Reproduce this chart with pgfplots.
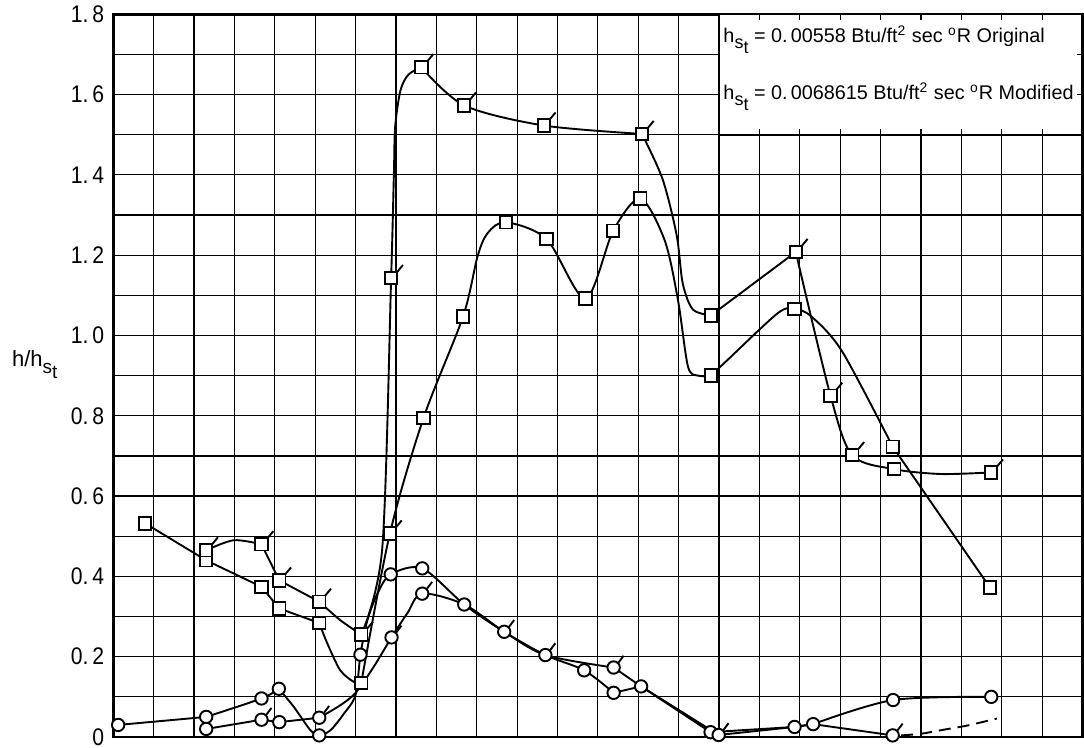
\documentclass[border=0pt]{standalone}
\usepackage{fontspec}
\setmainfont{Liberation Sans}
\newfontfamily\tickfont{Liberation Sans}[FakeStretch=0.88]
\usepackage{pgfplots}
\pgfplotsset{compat=1.18}
\newcommand\hst[1]{h\raisebox{-0.55ex}{\fontsize{#1}{#1}\selectfont s\raisebox{-0.55ex}{t}}}
\pgfdeclareplotmark{fsquare}{%
  \pgfpathrectangle{\pgfqpoint{-\pgfplotmarksize}{-\pgfplotmarksize}}{\pgfqpoint{2\pgfplotmarksize}{2\pgfplotmarksize}}%
  \pgfusepathqfillstroke
  \pgfpathmoveto{\pgfqpoint{0.9\pgfplotmarksize}{0.9\pgfplotmarksize}}%
  \pgfpathlineto{\pgfqpoint{1.9\pgfplotmarksize}{2.1\pgfplotmarksize}}%
  \pgfusepathqstroke}
\pgfdeclareplotmark{fcircle}{%
  \pgfpathcircle{\pgfpointorigin}{\pgfplotmarksize}%
  \pgfusepathqfillstroke
  \pgfpathmoveto{\pgfqpoint{0.7\pgfplotmarksize}{0.7\pgfplotmarksize}}%
  \pgfpathlineto{\pgfqpoint{1.6\pgfplotmarksize}{1.9\pgfplotmarksize}}%
  \pgfusepathqstroke}
\pgfplotsset{
  curve/.style={black, line width=0.95pt, smooth, tension=0.5, no markers},
  seg/.style={black, line width=0.95pt, sharp plot, no markers},
  mk/.style={only marks, mark size=3.1pt, mark options={fill=white, draw=black, line width=0.95pt, solid}},
}
\begin{document}
\begin{tikzpicture}
\useasboundingbox (0,0) rectangle (542pt,374pt);
\begin{axis}[
  at={(56.65pt,5.5pt)}, anchor=south west,
  scale only axis, width=484.6pt, height=361.35pt,
  xmin=0, xmax=24, ymin=0, ymax=1.8,
  xtick={0,...,24}, xticklabel=\empty,
  ytick={0,0.2,0.4,0.6,0.8,1.0,1.2,1.4,1.6,1.8},
  yticklabels={0,0.\,2,0.\,4,0.\,6,0.\,8,1.\,0,1.\,2,1.\,4,1.\,6,1.\,8},
  minor ytick={0.1,0.3,0.5,0.7,0.9,1.1,1.3,1.5,1.7},
  grid=both,
  major grid style={black, line width=0.6pt},
  minor grid style={black, line width=0.6pt},
  major tick length=0pt, minor tick length=0pt,
  axis line style={black, line width=1.3pt},
  yticklabel style={font=\tickfont\fontsize{12}{13}\selectfont, xshift=-1pt},
  ylabel={\fontsize{11}{12}\selectfont h/\hst{9.5}},
  ylabel style={rotate=-90, at={(axis description cs:-0.081,0.515)}, anchor=center},
  clip=false,
]
% ---- original squares
\addplot[seg] coordinates {(0.79,0.532) (2.3,0.44) (3.67,0.374) (4.11,0.32) (5.1,0.284)};
\addplot[curve] coordinates {(5.1,0.284) (5.3,0.233) (5.62,0.166) (5.96,0.137) (6.14,0.135)};
\addplot[curve] coordinates {(6.14,0.135) (6.85,0.507) (7.68,0.794) (8.66,1.047) (9.02,1.197) (9.27,1.255) (9.72,1.282) (10.73,1.24) (11.69,1.092) (12.38,1.261) (13.05,1.341) (13.65,1.238) (13.98,1.09) (14.23,0.923) (14.48,0.90) (14.8,0.90)};
\addplot[curve] coordinates {(14.8,0.90) (15.22,0.94) (16.46,1.056) (16.87,1.066) (17.29,1.047) (18.05,0.96) (19.3,0.723)};
\addplot[seg] coordinates {(19.3,0.723) (21.71,0.372)};
% ---- modified squares
\addplot[curve] coordinates {(2.3,0.465) (2.98,0.49) (3.67,0.48)};
\addplot[seg] coordinates {(3.67,0.48) (4.11,0.39) (5.1,0.337)};
\addplot[curve] coordinates {(5.1,0.337) (5.62,0.291) (6.14,0.255)};
\addplot[curve] coordinates {(6.14,0.255) (6.66,0.47) (6.88,1.143) (6.95,1.41) (6.98,1.52) (7.11,1.61) (7.31,1.65) (7.63,1.668)};
\addplot[curve] coordinates {(7.63,1.668) (8.69,1.573) (10.66,1.523) (13.09,1.502)};
\addplot[curve] coordinates {(13.09,1.502) (13.6,1.39) (13.95,1.25) (14.1,1.13) (14.35,1.065) (14.8,1.05)};
\addplot[seg] coordinates {(14.8,1.05) (16.9,1.208)};
\addplot[curve] coordinates {(16.9,1.208) (17.76,0.85) (18.3,0.702) (19.34,0.667) (20.5,0.655) (21.74,0.659)};
% ---- original circles
\addplot[seg] coordinates {(0.12,0.03) (2.3,0.05)};
\addplot[curve] coordinates {(2.3,0.05) (3.67,0.096) (4.1,0.12)};
\addplot[curve] coordinates {(4.1,0.12) (4.47,0.075) (4.88,0.017) (5.1,0.004) (5.38,0.017) (5.71,0.058) (6.0,0.105) (6.12,0.205) (6.29,0.29) (6.54,0.357) (6.87,0.405) (7.65,0.42) (8.69,0.33) (9.68,0.262) (10.7,0.204) (11.66,0.166) (12.39,0.11)};
\addplot[seg] coordinates {(12.39,0.11) (13.07,0.126) (14.79,0.012) (16.87,0.025) (17.33,0.032)};
\addplot[curve] coordinates {(17.33,0.032) (19.31,0.092) (21.74,0.10)};
% ---- modified circles
\addplot[seg] coordinates {(2.3,0.02) (3.67,0.043) (4.11,0.037) (5.1,0.048)};
\addplot[curve] coordinates {(5.1,0.048) (5.62,0.079) (6.0,0.11) (6.45,0.175) (6.89,0.248) (7.28,0.308) (7.65,0.357) (8.69,0.33) (9.68,0.262) (10.7,0.204) (12.39,0.173)};
\addplot[seg] coordinates {(12.39,0.173) (13.07,0.126) (14.99,0.005) (16.87,0.025) (17.33,0.032) (19.3,0.004)};
\addplot[curve, dash pattern=on 6pt off 3.5pt] coordinates {(19.51,0.004) (20.0,0.008) (20.5,0.017) (21.17,0.029) (21.88,0.046)};
% ---- marks
\addplot[mk, mark=square*] coordinates {(0.79,0.532) (2.3,0.44) (3.67,0.374) (4.11,0.32) (5.1,0.284) (6.14,0.135) (7.68,0.794) (8.66,1.047) (9.72,1.282) (10.73,1.24) (11.69,1.092) (12.38,1.261) (13.05,1.341) (14.8,0.90) (14.8,1.05) (16.87,1.066) (19.3,0.723) (19.34,0.667) (21.71,0.372)};
\addplot[mk, mark=fsquare] coordinates {(2.3,0.465) (3.67,0.48) (4.11,0.39) (5.1,0.337) (6.14,0.255) (6.85,0.507) (6.88,1.143) (7.63,1.668) (8.69,1.573) (10.66,1.523) (13.09,1.502) (16.9,1.208) (17.76,0.85) (18.3,0.702) (21.74,0.659)};
\addplot[mk, mark=*] coordinates {(0.12,0.03) (2.3,0.05) (2.3,0.02) (3.67,0.096) (4.1,0.12) (4.11,0.037) (5.1,0.004) (6.12,0.205) (6.87,0.405) (7.65,0.42) (8.69,0.33) (11.66,0.166) (12.39,0.11) (13.07,0.126) (14.79,0.012) (16.87,0.025) (17.33,0.032) (19.31,0.092) (21.74,0.10)};
\addplot[mk, mark=fcircle] coordinates {(3.67,0.043) (5.1,0.048) (6.89,0.248) (7.65,0.357) (9.68,0.262) (10.7,0.204) (12.39,0.173) (14.99,0.005) (19.3,0.004)};
% ---- legend box
\draw[fill=white, line width=1.1pt] (axis cs:15,1.5) rectangle (axis cs:24,1.8);
\pgfplotsinvokeforeach{16,...,23}{
  \draw[line width=0.6pt] (axis cs:#1,1.8) -- ++(0,-3pt);
  \draw[line width=0.6pt] (axis cs:#1,1.5) -- ++(0,3pt);
}
\draw[line width=0.6pt] (axis cs:24,1.7) -- ++(-3pt,0);
\draw[line width=0.6pt] (axis cs:24,1.6) -- ++(-3pt,0);
\node[anchor=base west, font=\fontsize{9.9}{12}\selectfont, inner sep=0pt] at (axis cs:15.1,1.73) {\hst{9} = 0.\,00558 Btu/ft\textsuperscript{2} sec \textsuperscript{o}R Original};
\node[anchor=base west, font=\fontsize{9.9}{12}\selectfont, inner sep=0pt] at (axis cs:15.1,1.588) {\hst{9} = 0.\,0068615 Btu/ft\textsuperscript{2} sec \textsuperscript{o}R Modified};
\end{axis}
\end{tikzpicture}
\end{document}
